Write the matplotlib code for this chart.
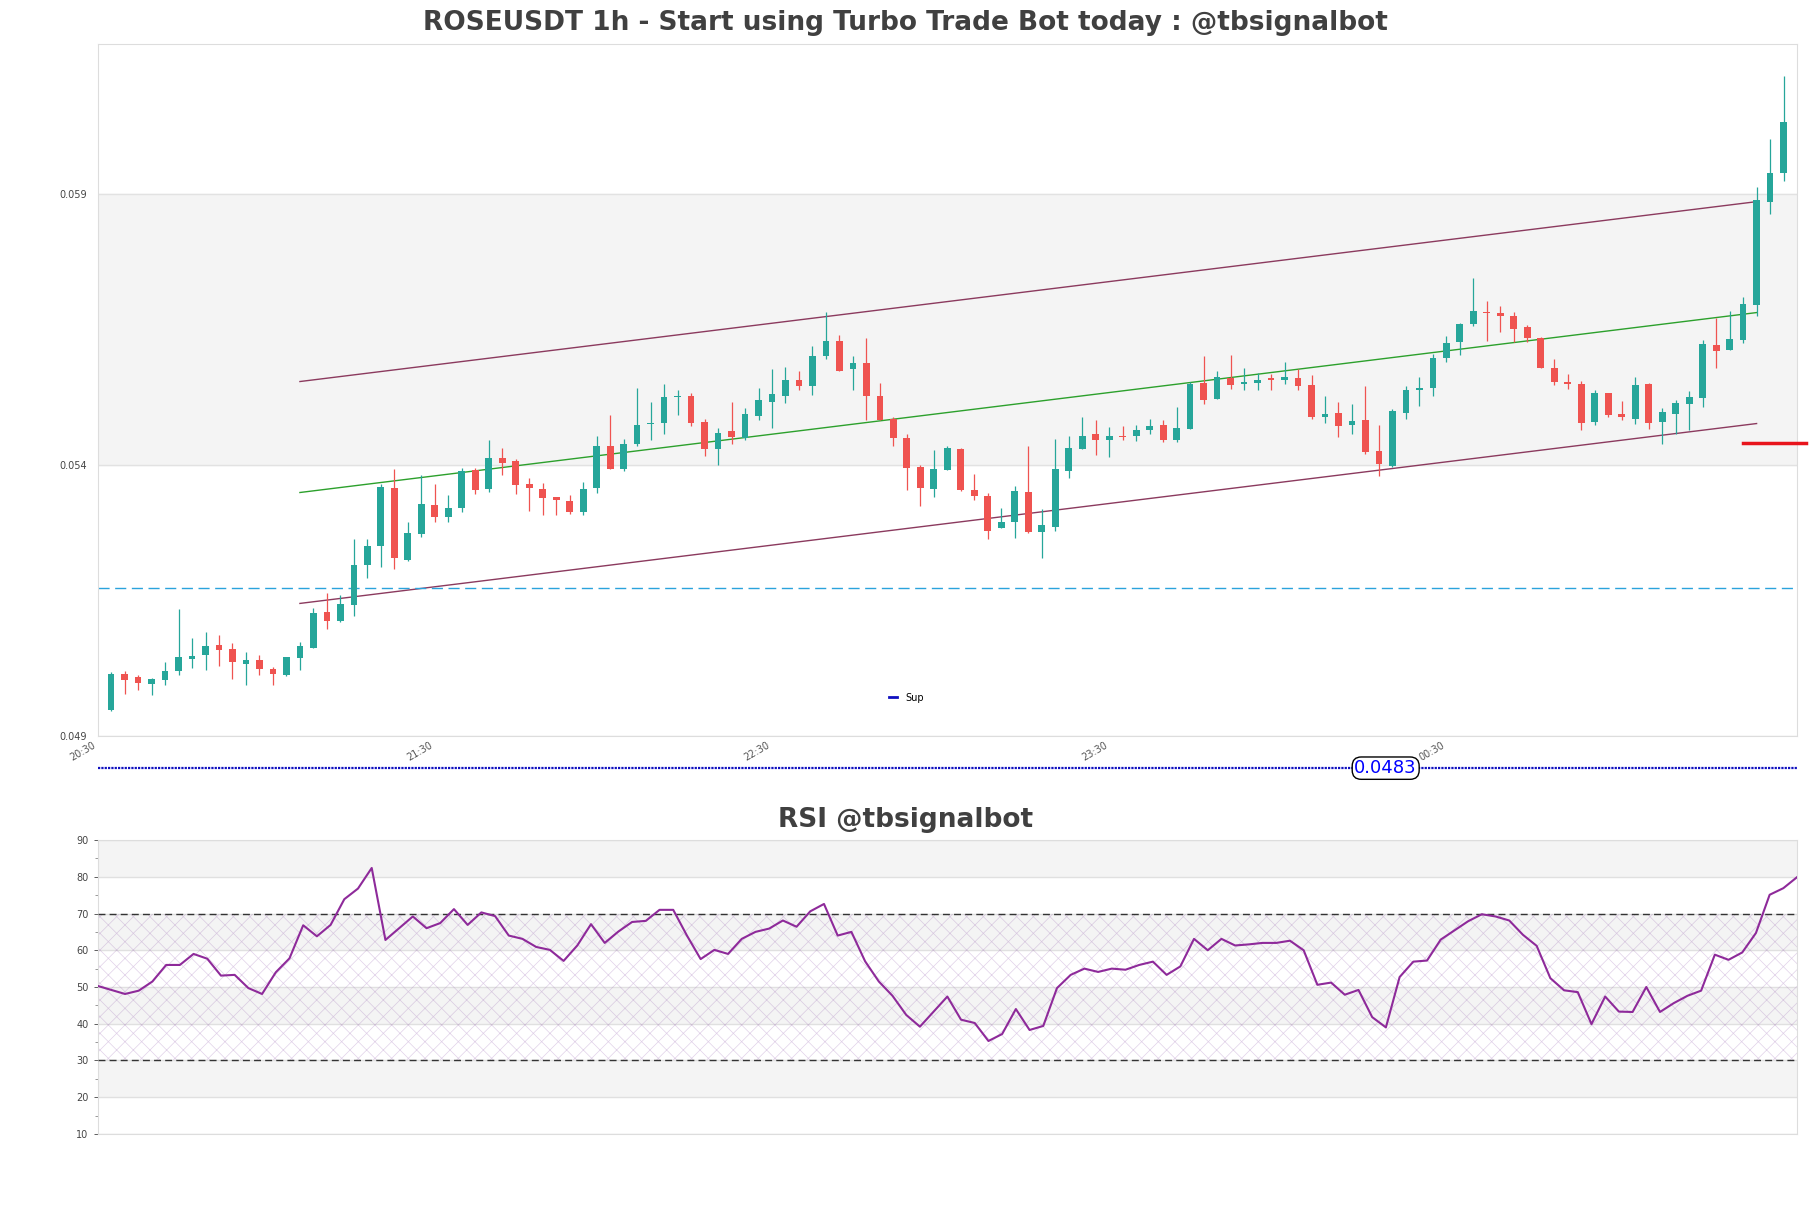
import matplotlib.pyplot as plt
import numpy as np
from matplotlib.lines import Line2D

# OHLC values of the 125 candles (USDT)
opens = [0.049473, 0.050132, 0.050076, 0.049953, 0.050027, 0.050193, 0.050415, 0.050489, 0.050667, 0.050593,
         0.050323, 0.050396, 0.050236, 0.050119, 0.050433, 0.050624, 0.051277, 0.051110, 0.051412, 0.052144,
         0.052501, 0.053584, 0.052250, 0.052729, 0.053252, 0.053037, 0.053203, 0.053911, 0.053554, 0.054138,
         0.054065, 0.053640, 0.053566, 0.053406, 0.053326, 0.053123, 0.053572, 0.054342, 0.053935, 0.054379,
         0.054754, 0.054772, 0.055253, 0.055283, 0.054803, 0.054292, 0.054619, 0.054502, 0.054914, 0.055173,
         0.055283, 0.055579, 0.055456, 0.056010, 0.056299, 0.055770, 0.055893, 0.055283, 0.054853, 0.054508,
         0.053954, 0.053554, 0.053905, 0.054304, 0.053547, 0.053436, 0.052833, 0.052944, 0.053510, 0.052759,
         0.052852, 0.053886, 0.054304, 0.054581, 0.054458, 0.054544, 0.054532, 0.054655, 0.054747, 0.054458,
         0.054674, 0.055511, 0.055228, 0.055603, 0.055492, 0.055510, 0.055603, 0.055566, 0.055615, 0.055486,
         0.054883, 0.054969, 0.054735, 0.054840, 0.054267, 0.053990, 0.054969, 0.055394, 0.055418, 0.055972,
         0.056268, 0.056600, 0.056834, 0.056815, 0.056760, 0.056551, 0.056354, 0.055794, 0.055541, 0.055504,
         0.054790, 0.055326, 0.054938, 0.054858, 0.055504, 0.054790, 0.054938, 0.055129, 0.055234, 0.056218,
         0.056120, 0.056304, 0.056951, 0.058853, 0.059388]
highs = [0.050175, 0.050193, 0.050113, 0.050058, 0.050359, 0.051332, 0.050797, 0.050913, 0.050852, 0.050704,
         0.050538, 0.050483, 0.050261, 0.050458, 0.050729, 0.051350, 0.051640, 0.051590, 0.052625, 0.052625,
         0.053640, 0.053917, 0.052951, 0.053818, 0.053652, 0.053437, 0.053948, 0.053948, 0.054471, 0.054323,
         0.054102, 0.053769, 0.053671, 0.053410, 0.053437, 0.053695, 0.054545, 0.054932, 0.054483, 0.055431,
         0.055172, 0.055505, 0.055394, 0.055333, 0.054859, 0.054692, 0.055173, 0.055062, 0.055431, 0.055782,
         0.055819, 0.055745, 0.056201, 0.056828, 0.056410, 0.056022, 0.056348, 0.055523, 0.054890, 0.054569,
         0.053991, 0.054280, 0.054342, 0.054310, 0.053843, 0.053486, 0.053215, 0.053603, 0.054360, 0.053190,
         0.054489, 0.054538, 0.054895, 0.054827, 0.054704, 0.054729, 0.054741, 0.054858, 0.054827, 0.055080,
         0.055535, 0.056009, 0.055745, 0.056028, 0.055800, 0.055701, 0.055689, 0.055911, 0.055781, 0.055671,
         0.055270, 0.055172, 0.055135, 0.055467, 0.054735, 0.055043, 0.055467, 0.055628, 0.056052, 0.056385,
         0.056625, 0.057462, 0.057037, 0.056945, 0.056828, 0.056594, 0.056366, 0.055966, 0.055689, 0.055547,
         0.055381, 0.055338, 0.055178, 0.055634, 0.055523, 0.055055, 0.055197, 0.055375, 0.056311, 0.056711,
         0.056852, 0.057111, 0.059142, 0.060028, 0.061192]
lows = [0.049460, 0.049762, 0.049842, 0.049744, 0.049929, 0.050119, 0.050243, 0.050206, 0.050286, 0.050039,
        0.049929, 0.050113, 0.049929, 0.050110, 0.050212, 0.050612, 0.050963, 0.051098, 0.051209, 0.051910,
        0.052114, 0.052070, 0.052220, 0.052674, 0.052944, 0.052944, 0.053129, 0.053461, 0.053498, 0.053812,
        0.053461, 0.053148, 0.053074, 0.053074, 0.053098, 0.053080, 0.053480, 0.053917, 0.053886, 0.054360,
        0.054471, 0.054569, 0.054920, 0.054717, 0.054163, 0.053997, 0.054385, 0.054471, 0.054828, 0.054680,
        0.055142, 0.055382, 0.055290, 0.055954, 0.055733, 0.055394, 0.054828, 0.054830, 0.054348, 0.053535,
        0.053240, 0.053406, 0.053900, 0.053520, 0.053350, 0.052630, 0.052830, 0.052650, 0.052747, 0.052290,
        0.052778, 0.053763, 0.054290, 0.054181, 0.054144, 0.054458, 0.054446, 0.054569, 0.054421, 0.054421,
        0.054670, 0.055123, 0.055220, 0.055412, 0.055394, 0.055381, 0.055381, 0.055492, 0.055394, 0.054846,
        0.054772, 0.054513, 0.054569, 0.054212, 0.053793, 0.053966, 0.054846, 0.055086, 0.055270, 0.055898,
        0.056028, 0.056569, 0.056286, 0.056452, 0.056274, 0.056268, 0.055787, 0.055486, 0.055412, 0.054643,
        0.054735, 0.054889, 0.054827, 0.054753, 0.054673, 0.054384, 0.054569, 0.054643, 0.055073, 0.055787,
        0.056120, 0.056249, 0.056748, 0.058631, 0.059240]
closes = [0.050132, 0.050027, 0.049972, 0.050039, 0.050187, 0.050446, 0.050464, 0.050649, 0.050581, 0.050359,
          0.050390, 0.050230, 0.050138, 0.050446, 0.050649, 0.051258, 0.051117, 0.051424, 0.052144, 0.052495,
          0.053585, 0.052274, 0.052735, 0.053271, 0.053037, 0.053215, 0.053898, 0.053535, 0.054138, 0.054034,
          0.053628, 0.053572, 0.053387, 0.053357, 0.053123, 0.053566, 0.054360, 0.053935, 0.054397, 0.054748,
          0.054779, 0.055265, 0.055271, 0.054773, 0.054292, 0.054600, 0.054514, 0.054951, 0.055197, 0.055320,
          0.055579, 0.055468, 0.056022, 0.056299, 0.055745, 0.055893, 0.055271, 0.054840, 0.054496, 0.053942,
          0.053572, 0.053917, 0.054305, 0.053535, 0.053424, 0.052778, 0.052956, 0.053529, 0.052766, 0.052883,
          0.053917, 0.054323, 0.054544, 0.054458, 0.054544, 0.054514, 0.054655, 0.054729, 0.054458, 0.054692,
          0.055492, 0.055209, 0.055634, 0.055474, 0.055529, 0.055578, 0.055566, 0.055634, 0.055467, 0.054895,
          0.054950, 0.054717, 0.054821, 0.054236, 0.054015, 0.055006, 0.055394, 0.055418, 0.055984, 0.056261,
          0.056612, 0.056852, 0.056809, 0.056748, 0.056508, 0.056341, 0.055787, 0.055529, 0.055492, 0.054772,
          0.055338, 0.054920, 0.054883, 0.055486, 0.054772, 0.054981, 0.055154, 0.055258, 0.056243, 0.056101,
          0.056335, 0.056975, 0.058902, 0.059400, 0.060342]

rsi = [50.3, 49.2, 48.1, 49.0, 51.5, 56.0, 56.0, 59.0, 57.7, 53.1,
       53.3, 49.7, 48.1, 54.0, 57.8, 66.8, 63.8, 66.9, 73.9, 76.8,
       82.4, 62.8, 66.0, 69.2, 66.0, 67.4, 71.2, 66.9, 70.3, 69.3,
       64.0, 63.1, 60.9, 60.1, 57.1, 61.3, 67.1, 62.0, 65.1, 67.7,
       68.0, 71.0, 71.0, 64.0, 57.6, 60.1, 59.0, 63.1, 65.0, 65.9,
       68.1, 66.4, 70.6, 72.6, 64.0, 65.0, 57.0, 51.5, 47.6, 42.4,
       39.2, 43.3, 47.4, 41.1, 40.2, 35.3, 37.2, 44.0, 38.3, 39.4,
       49.7, 53.3, 55.0, 54.1, 55.0, 54.7, 56.0, 56.9, 53.3, 55.6,
       63.1, 60.0, 63.1, 61.3, 61.6, 62.0, 62.0, 62.6, 60.0, 50.6,
       51.2, 47.9, 49.2, 41.8, 39.0, 52.7, 56.9, 57.2, 62.9, 65.4,
       67.9, 69.8, 69.2, 68.1, 64.2, 61.2, 52.4, 49.1, 48.6, 39.9,
       47.4, 43.3, 43.2, 50.0, 43.2, 45.6, 47.6, 49.0, 58.8, 57.4,
       59.4, 64.7, 75.1, 76.9, 79.9]

# regression channel (start / end candle)
channel_x = [14, 122]
channel_upper = [0.055542, 0.058865]
channel_mid = [0.053492, 0.056816]
channel_lower = [0.051443, 0.054766]

support = 0.0484
dashed_level = 0.05172
red_level = 0.0544

time_ticks = [-1, 24, 49, 74, 99]
time_labels = ['20:30', '21:30', '22:30', '23:30', '00:30']

up_color = '#26a69a'
down_color = '#ef5350'
text_grey = '#444444'
spine_grey = '#dddddd'

fig = plt.figure(figsize=(18.11, 12.08), dpi=100)
ax = fig.add_axes([0.0539, 0.391, 0.9384, 0.5727])
rax = fig.add_axes([0.0539, 0.0613, 0.9384, 0.2433])

# ---- price panel ----
x = np.arange(len(opens))
o = np.array(opens)
c = np.array(closes)
colors = [up_color if cc >= oo else down_color for oo, cc in zip(o, c)]
ax.vlines(x, lows, highs, colors=colors, lw=0.9, zorder=3)
body = np.maximum(np.abs(c - o), 0.00002)
ax.bar(x, body, bottom=np.minimum(o, c), width=0.5, color=colors, zorder=4)

ax.axhspan(0.054, 0.059, color='#f4f4f4', zorder=0)
ax.plot(channel_x, channel_upper, color='#8b3a5e', lw=1, zorder=2)
ax.plot(channel_x, channel_mid, color='#2ca02c', lw=1, zorder=2)
ax.plot(channel_x, channel_lower, color='#8b3a5e', lw=1, zorder=2)
ax.axhline(dashed_level, color='#2aa3dc', lw=1.0, dashes=(8, 4), zorder=2)

ax.plot([-1, 125], [support, support], color='#1010c0', lw=1.6,
        linestyle=(0, (1, 0.5)), clip_on=False, zorder=5)
ax.text(94.5, support, '0.0483', color='blue', fontsize=13, ha='center', va='center',
        clip_on=False, zorder=6,
        bbox=dict(boxstyle='round,pad=0.12,rounding_size=0.5', fc='white', ec='black', lw=1))
ax.plot([121, 125.7], [red_level, red_level], color='#e8141c', lw=2.5,
        clip_on=False, zorder=5)

ax.set_xlim(-1, 125)
ax.set_ylim(0.049, 0.06178)
ax.set_yticks([0.049, 0.054, 0.059])
ax.set_yticklabels(['0.049', '0.054', '0.059'])
ax.set_xticks(time_ticks)
ax.set_xticklabels(time_labels, rotation=30, ha='right')
ax.tick_params(axis='y', labelsize=7, colors=text_grey, length=0, pad=8)
ax.tick_params(axis='x', labelsize=7, colors='#555555', length=0, pad=3)
ax.grid(axis='y', color='#e2e2e2', lw=1)
ax.set_axisbelow(True)
for s in ax.spines.values():
    s.set_color(spine_grey)

ax.legend(handles=[Line2D([], [], color='#1010c0', lw=2)], labels=['Sup'],
          loc='lower center', bbox_to_anchor=(0.476, 0.035), frameon=False,
          fontsize=7, handlelength=0.8)

fig.text(0.5, 0.981, 'ROSEUSDT 1h - Start using Turbo Trade Bot today : @tbsignalbot',
         ha='center', va='center', fontsize=19, fontweight='bold', color='#404040')

# ---- RSI panel ----
plt.rcParams['hatch.linewidth'] = 0.5
rx = np.arange(len(rsi))
for lo, hi in [(20, 30), (40, 50), (60, 70), (80, 90)]:
    rax.axhspan(lo, hi, color='#f4f4f4', lw=0, zorder=0)
rax.axhspan(30, 70, facecolor='none', hatch='xx', edgecolor=(0.6, 0.4, 0.7, 0.3),
            lw=0, zorder=1)
rax.axhline(70, color='#333333', lw=1, dashes=(5, 3), zorder=3)
rax.axhline(30, color='#333333', lw=1, dashes=(5, 3), zorder=3)
rax.plot(rx, rsi, color='#8e2a9a', lw=1.5, zorder=4)

rax.set_xlim(0, len(rsi) - 1)
rax.set_ylim(10, 90)
rax.set_yticks(range(10, 91, 10))
rax.set_yticks(range(15, 90, 10), minor=True)
rax.set_xticks([])
rax.tick_params(axis='y', which='major', labelsize=7, colors=text_grey, length=3, width=0.6)
rax.tick_params(axis='y', which='minor', length=2, width=0.6, colors='#888888')
rax.grid(axis='y', which='major', color='#e0e0e0', lw=1)
rax.set_axisbelow(True)
for s in rax.spines.values():
    s.set_color(spine_grey)

fig.text(0.5, 0.321, 'RSI @tbsignalbot', ha='center', va='center',
         fontsize=19, fontweight='bold', color='#404040')

fig.savefig('out.png', dpi=100)
